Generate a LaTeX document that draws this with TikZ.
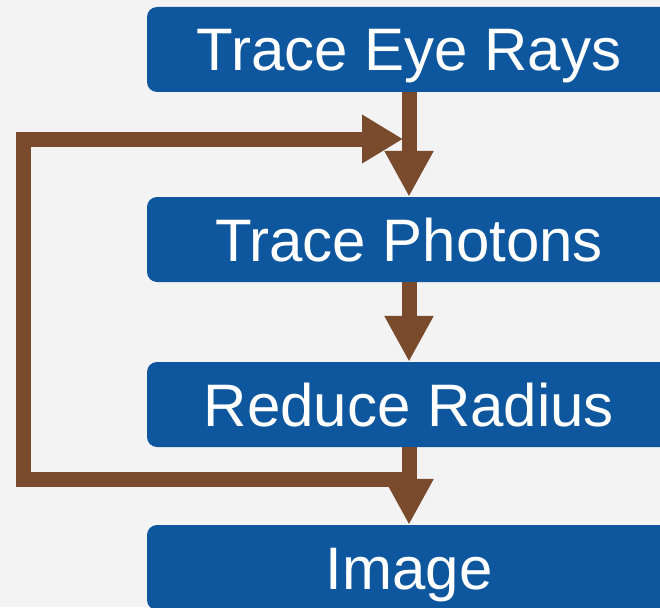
\documentclass[tikz,border=0pt]{standalone}
\usepackage{fontspec}
\setmainfont{Liberation Sans}
\usetikzlibrary{arrows.meta,positioning}
\definecolor{boxblue}{RGB}{14,87,158}
\definecolor{flowbrown}{RGB}{122,74,44}
\definecolor{paper}{RGB}{243,243,243}
\tikzset{
  stage/.style={fill=boxblue, text=white, rounded corners=10pt, minimum width=524pt,
    minimum height=85pt, inner sep=0pt, text height=43pt, text depth=0pt,
    font=\fontsize{60}{72}\selectfont},
  flow/.style={draw=flowbrown, line width=15pt, -{Triangle[width=46pt,length=46pt]}}
}
\begin{document}
\begin{tikzpicture}[x=1pt,y=1pt]
    \fill[paper] (0,0) rectangle (660,-607);
    \useasboundingbox (0,0) rectangle (660,-607);
    \clip (0,0) rectangle (660,-607);
    \node[stage] (trace) at (409,-49.5) {Trace Eye Rays};
    \node[stage] (photons) at (409,-239.5) {Trace Photons};
    \node[stage] (reduce) at (409,-404.5) {Reduce Radius};
    \node[stage] (image) at (409,-567.5) {Image};
    % loop back
    \coordinate (loopa) at (23,-479);
    \coordinate (loopb) at (23,-139);
    \draw[flow, -{Triangle[width=46pt,length=41pt]}] (reduce.south) |- (loopa) -- (loopb) -- ([xshift=-6pt]loopb -| trace.south);
    \draw[flow] (trace) -- (photons);
    \draw[flow] (photons) -- (reduce);
    \draw[flow] (reduce) -- (image);
\end{tikzpicture}
\end{document}
